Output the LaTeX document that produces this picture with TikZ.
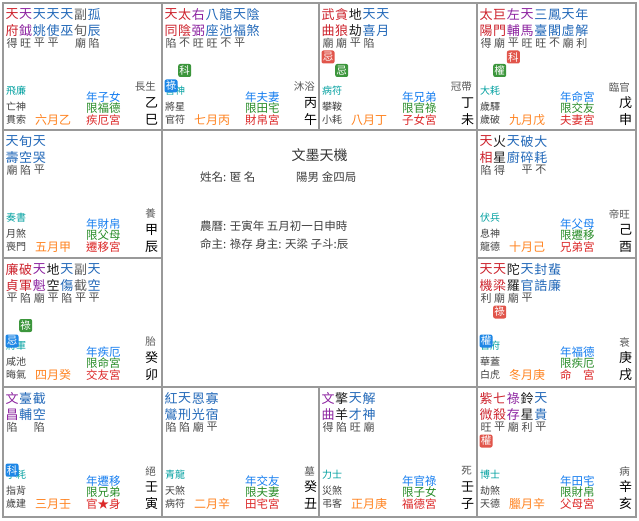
\documentclass[tikz,border=0pt]{standalone}
\usepackage{fontspec}
\setmainfont{Noto Sans CJK TC}
\usepackage{tikz}
\definecolor{hong}{RGB}{205,35,45}
\definecolor{zi}{RGB}{140,35,160}
\definecolor{lan}{RGB}{35,105,185}
\definecolor{hei}{RGB}{30,30,30}
\definecolor{hui}{RGB}{95,95,95}
\definecolor{qing}{RGB}{0,160,160}
\definecolor{cheng}{RGB}{255,130,30}
\definecolor{nianlan}{RGB}{20,125,240}
\definecolor{xianlv}{RGB}{40,140,40}
\definecolor{gonghong}{RGB}{220,40,40}
\definecolor{huahong}{RGB}{225,85,75}
\definecolor{hualv}{RGB}{60,150,60}
\definecolor{hualan}{RGB}{30,135,230}
% one star: column, colour, upper char, lower char, brightness
\newcommand{\xing}[5]{%
  \node[xing,text=#2] (\g-#1a) at ({9+13.7*(#1-1)},11.5) {#3};
  \node[xing,text=#2] (\g-#1b) at ({9+13.7*(#1-1)},27.5) {#4};
  \node[liang] (\g-#1c) at ({9+13.7*(#1-1)},40) {#5};}
% si hua badge: column, height, colour, text
\newcommand{\hua}[4]{%
  \node[hua,fill=#3] (\g-h#1) at ({9+13.7*(#1-1)},#2) {#4};}
\newcommand{\shen}[3]{%
  \node[boshi] (\g-bs) at (3,88) {#1};
  \node[sui] (\g-jq) at (3,104) {#2};
  \node[sui] (\g-sq) at (3,117) {#3};}
\newcommand{\xian}[4]{%
  \node[yue] (\g-yue) at (32,117) {#1};
  \node[dx,text=nianlan] (\g-nian) at (83,94) {#2};
  \node[dx,text=xianlv] (\g-xian) at (83,105.5) {#3};
  \node[dx,text=gonghong] (\g-gong) at (83,117) {#4};}
\newcommand{\zhi}[3]{%
  \node[csheng] (\g-cs) at (153,84) {#1};
  \node[gz] (\g-gan) at (148.5,100) {#2};
  \node[gz] (\g-zhi) at (148.5,116.5) {#3};}

\begin{document}
\begin{tikzpicture}[x=1pt,y=-1pt,
    xing/.style={inner sep=0pt,font=\fontsize{13}{13}\selectfont},
    liang/.style={inner sep=0pt,text=black!70,font=\fontsize{11}{11}\selectfont},
    hua/.style={inner sep=0pt,minimum size=13pt,rounded corners=2pt,text=white,
      font=\fontsize{10.5}{10.5}\selectfont},
    boshi/.style={anchor=west,inner sep=0pt,text=qing,font=\fontsize{10}{10}\selectfont},
    sui/.style={anchor=west,inner sep=0pt,text=black!75,font=\fontsize{10}{10}\selectfont},
    yue/.style={anchor=west,inner sep=0pt,text=cheng,font=\fontsize{12}{12}\selectfont},
    dx/.style={anchor=west,inner sep=0pt,font=\fontsize{11.5}{11.5}\selectfont},
    csheng/.style={anchor=east,inner sep=0pt,text=black!65,font=\fontsize{10.5}{10.5}\selectfont},
    gz/.style={inner sep=0pt,text=black,font=\fontsize{13}{13}\selectfont},
    zhong/.style={anchor=west,inner sep=0pt,text=black!75,font=\fontsize{11.5}{11.5}\selectfont},
    gridline/.style={draw=black!40,line width=1.3pt}]
  \fill[white] (0,0) rectangle (639,521);
  \useasboundingbox (0,0) rectangle (639,521);

  % palace grid
  \draw[gridline] (3,3) rectangle (636,517);
  \draw[gridline] (3,130) -- (636,130) (3,387) -- (636,387)
    (3,258) -- (162,258) (477,258) -- (636,258)
    (162,3) -- (162,517) (477,3) -- (477,517)
    (319,3) -- (319,130) (319,387) -- (319,517);

  % si
  \begin{scope}[shift={(3,3)}]\def\g{si}
    \xing{1}{hong}{天}{府}{得} \xing{2}{zi}{天}{鉞}{旺} \xing{3}{lan}{天}{姚}{平}
    \xing{4}{lan}{天}{使}{平} \xing{5}{lan}{天}{巫}{} \xing{6}{hui}{副}{旬}{廟}
    \xing{7}{lan}{孤}{辰}{陷}
    \shen{飛廉}{亡神}{貫索}
    \xian{六月乙}{年子女}{限福德}{疾厄宮}
    \zhi{長生}{乙}{巳}
  \end{scope}
  % wu
  \begin{scope}[shift={(162,3)}]\def\g{wu}
    \xing{1}{hong}{天}{同}{陷} \xing{2}{hong}{太}{陰}{不} \xing{3}{zi}{右}{弼}{旺}
    \xing{4}{lan}{八}{座}{旺} \xing{5}{lan}{龍}{池}{不} \xing{6}{lan}{天}{福}{平}
    \xing{7}{lan}{陰}{煞}{}
    \shen{喜神}{將星}{官符}
    \xian{七月丙}{年夫妻}{限田宅}{財帛宮}
    \zhi{沐浴}{丙}{午}
    \hua{2}{67.5}{hualv}{科} \hua{1}{83}{hualan}{祿}
  \end{scope}
  % wei
  \begin{scope}[shift={(319,3)}]\def\g{wei}
    \xing{1}{hong}{武}{曲}{廟} \xing{2}{hong}{貪}{狼}{廟} \xing{3}{hei}{地}{劫}{平}
    \xing{4}{lan}{天}{喜}{陷} \xing{5}{lan}{天}{月}{}
    \shen{病符}{攀鞍}{小耗}
    \xian{八月丁}{年兄弟}{限官祿}{子女宮}
    \zhi{冠帶}{丁}{未}
    \hua{1}{54}{huahong}{忌} \hua{2}{67.5}{hualv}{忌}
  \end{scope}
  % shen
  \begin{scope}[shift={(477,3)}]\def\g{shen}
    \xing{1}{hong}{太}{陽}{得} \xing{2}{hong}{巨}{門}{廟} \xing{3}{zi}{左}{輔}{平}
    \xing{4}{zi}{天}{馬}{旺} \xing{5}{lan}{三}{臺}{旺} \xing{6}{lan}{鳳}{閣}{不}
    \xing{7}{lan}{天}{虛}{廟} \xing{8}{lan}{年}{解}{利}
    \shen{大耗}{歲驛}{歲破}
    \xian{九月戊}{年命宮}{限交友}{夫妻宮}
    \zhi{臨官}{戊}{申}
    \hua{3}{54}{huahong}{科} \hua{2}{67.5}{hualv}{權}
  \end{scope}
  % chen
  \begin{scope}[shift={(3,130)}]\def\g{chen}
    \xing{1}{lan}{天}{壽}{廟} \xing{2}{lan}{旬}{空}{陷} \xing{3}{lan}{天}{哭}{平}
    \shen{奏書}{月煞}{喪門}
    \xian{五月甲}{年財帛}{限父母}{遷移宮}
    \zhi{養}{甲}{辰}
  \end{scope}
  % you
  \begin{scope}[shift={(477,130)}]\def\g{you}
    \xing{1}{hong}{天}{相}{陷} \xing{2}{hei}{火}{星}{得} \xing{3}{lan}{天}{廚}{}
    \xing{4}{lan}{破}{碎}{平} \xing{5}{lan}{大}{耗}{不}
    \shen{伏兵}{息神}{龍德}
    \xian{十月己}{年父母}{限遷移}{兄弟宮}
    \zhi{帝旺}{己}{酉}
  \end{scope}
  % mao
  \begin{scope}[shift={(3,258)}]\def\g{mao}
    \xing{1}{hong}{廉}{貞}{平} \xing{2}{hong}{破}{軍}{陷} \xing{3}{zi}{天}{魁}{廟}
    \xing{4}{hei}{地}{空}{平} \xing{5}{lan}{天}{傷}{陷} \xing{6}{hui}{副}{截}{平}
    \xing{7}{lan}{天}{空}{平}
    \shen{將軍}{咸池}{晦氣}
    \xian{四月癸}{年疾厄}{限命宮}{交友宮}
    \zhi{胎}{癸}{卯}
    \hua{2}{67.5}{hualv}{祿} \hua{1}{83}{hualan}{忌}
  \end{scope}
  % xu
  \begin{scope}[shift={(477,258)}]\def\g{xu}
    \xing{1}{hong}{天}{機}{利} \xing{2}{hong}{天}{梁}{廟} \xing{3}{hei}{陀}{羅}{廟}
    \xing{4}{lan}{天}{官}{平} \xing{5}{lan}{封}{誥}{} \xing{6}{lan}{蜚}{廉}{}
    \shen{官府}{華蓋}{白虎}
    \xian{冬月庚}{年福德}{限疾厄}{命　宮}
    \zhi{衰}{庚}{戌}
    \hua{2}{54}{huahong}{祿} \hua{1}{83}{hualan}{權}
  \end{scope}
  % yin
  \begin{scope}[shift={(3,387)}]\def\g{yin}
    \xing{1}{zi}{文}{昌}{陷} \xing{2}{lan}{臺}{輔}{} \xing{3}{lan}{截}{空}{陷}
    \shen{小耗}{指背}{歲建}
    \xian{三月壬}{年遷移}{限兄弟}{官★身}
    \zhi{絕}{壬}{寅}
    \hua{1}{83}{hualan}{科}
  \end{scope}
  % chou
  \begin{scope}[shift={(162,387)}]\def\g{chou}
    \xing{1}{lan}{紅}{鸞}{陷} \xing{2}{lan}{天}{刑}{陷} \xing{3}{lan}{恩}{光}{廟}
    \xing{4}{lan}{寡}{宿}{平}
    \shen{青龍}{天煞}{病符}
    \xian{二月辛}{年交友}{限夫妻}{田宅宮}
    \zhi{墓}{癸}{丑}
  \end{scope}
  % zi
  \begin{scope}[shift={(319,387)}]\def\g{zi}
    \xing{1}{zi}{文}{曲}{得} \xing{2}{hei}{擎}{羊}{陷} \xing{3}{lan}{天}{才}{旺}
    \xing{4}{lan}{解}{神}{廟}
    \shen{力士}{災煞}{弔客}
    \xian{正月庚}{年官祿}{限子女}{福德宮}
    \zhi{死}{壬}{子}
  \end{scope}
  % hai
  \begin{scope}[shift={(477,387)}]\def\g{hai}
    \xing{1}{hong}{紫}{微}{旺} \xing{2}{hong}{七}{殺}{平} \xing{3}{zi}{祿}{存}{廟}
    \xing{4}{hei}{鈴}{星}{利} \xing{5}{lan}{天}{貴}{平}
    \shen{博士}{劫煞}{天德}
    \xian{臘月辛}{年田宅}{限財帛}{父母宮}
    \zhi{病}{辛}{亥}
    \hua{1}{54}{huahong}{權}
  \end{scope}

  % centre
  \node[inner sep=0pt,text=black!80,font=\fontsize{14}{14}\selectfont] (title) at (319.5,155) {文墨天機};
  \node[zhong] (name) at (200,177) {姓名: 匿 名};
  \node[zhong] (ju) at (296,177) {陽男 金四局};
  \node[zhong] (lunar) at (200,226) {農曆: 壬寅年 五月初一日申時};
  \node[zhong] (zhu) at (200,244) {命主: 祿存 身主: 天梁 子斗:辰};
\end{tikzpicture}
\end{document}
